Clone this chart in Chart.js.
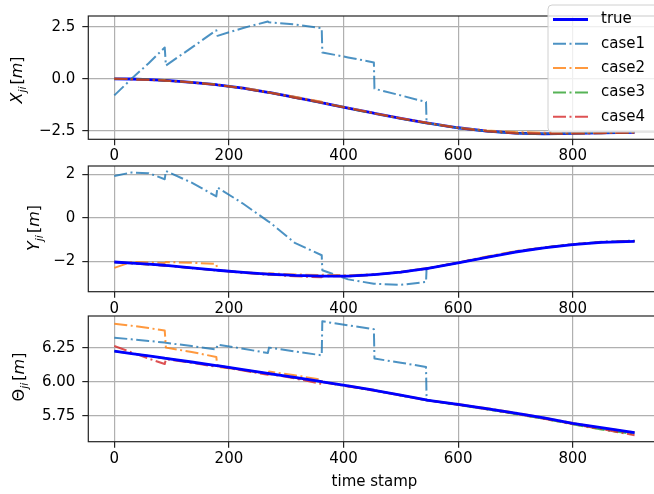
<!DOCTYPE html>
<html>
<head>
<meta charset="utf-8">
<script src="https://cdn.jsdelivr.net/npm/chart.js@4.4.0/dist/chart.umd.min.js"></script>
<style>
  body { margin: 0; background: #fff; overflow: hidden; }
  #wrap { position: relative; width: 654px; height: 494px; overflow: hidden; background: #fff; }
  #wrap canvas { position: absolute; left: 0; }
</style>
</head>
<body>
<div id="wrap">
  <canvas id="chartX" width="700" height="175" style="top:0px"></canvas>
  <canvas id="chartY" width="700" height="175" style="top:150px"></canvas>
  <canvas id="chartT" width="700" height="194" style="top:300px"></canvas>
</div>
<script>
const timeStamps = [0, 30, 60, 88, 90, 135, 178, 180, 225, 268, 270, 315, 362, 363, 408, 453, 454, 500, 544, 545, 600, 650, 700, 750, 800, 850, 908];

// X_ji [m]
const trueX  = [0.00, -0.01, -0.04, -0.08, -0.08, -0.17, -0.28, -0.29, -0.45, -0.65, -0.66, -0.90, -1.15, -1.16, -1.41, -1.66, -1.67, -1.91, -2.12, -2.13, -2.36, -2.52, -2.62, -2.65, -2.63, -2.61, -2.58];
const case1X = [-0.80, 0.00, 0.75, 1.51, 0.64, 1.50, 2.34, 2.07, 2.45, 2.76, 2.72, 2.62, 2.44, 1.27, 1.03, 0.79, -0.48, -0.80, -1.12, -2.13, -2.37, -2.53, -2.63, -2.64, -2.62, -2.60, -2.57];
const case2X = [0.00, -0.02, -0.05, -0.06, -0.09, -0.17, -0.27, -0.30, -0.44, -0.63, -0.66, -0.87, -1.10, -1.16, -1.40, -1.65, -1.67, -1.90, -2.11, -2.13, -2.35, -2.49, -2.57, -2.60, -2.62, -2.61, -2.58];
const case3X = [0.00, -0.01, -0.04, -0.09, -0.08, -0.18, -0.28, -0.29, -0.46, -0.66, -0.66, -0.91, -1.16, -1.16, -1.42, -1.67, -1.67, -1.92, -2.13, -2.13, -2.37, -2.53, -2.63, -2.66, -2.64, -2.62, -2.59];
const case4X = [0.00, -0.02, -0.05, -0.09, -0.08, -0.18, -0.29, -0.29, -0.46, -0.66, -0.66, -0.91, -1.15, -1.16, -1.42, -1.66, -1.67, -1.91, -2.12, -2.13, -2.37, -2.53, -2.63, -2.65, -2.64, -2.62, -2.60];

// Y_ji [m]
const trueY  = [-2.03, -2.08, -2.13, -2.18, -2.19, -2.30, -2.40, -2.41, -2.51, -2.59, -2.59, -2.65, -2.68, -2.68, -2.68, -2.61, -2.61, -2.50, -2.34, -2.33, -2.07, -1.82, -1.57, -1.38, -1.23, -1.13, -1.08];
const case1Y = [1.93, 2.09, 2.06, 1.78, 2.16, 1.62, 0.99, 1.40, 0.65, -0.15, -0.18, -1.15, -1.72, -2.41, -2.83, -3.03, -3.03, -3.08, -2.95, -2.33, -2.06, -1.80, -1.55, -1.36, -1.21, -1.10, -1.04];
const case2Y = [-2.30, -2.03, -2.05, -2.08, -2.03, -2.07, -2.12, -2.41, -2.50, -2.57, -2.55, -2.60, -2.63, -2.62, -2.64, -2.59, -2.60, -2.48, -2.32, -2.33, -2.05, -1.78, -1.53, -1.36, -1.22, -1.12, -1.07];
const case3Y = [-2.04, -2.09, -2.14, -2.19, -2.19, -2.31, -2.41, -2.41, -2.52, -2.60, -2.60, -2.66, -2.69, -2.68, -2.68, -2.61, -2.61, -2.50, -2.34, -2.33, -2.07, -1.81, -1.56, -1.37, -1.22, -1.12, -1.07];
const case4Y = [-2.03, -2.09, -2.15, -2.20, -2.19, -2.31, -2.42, -2.41, -2.53, -2.62, -2.60, -2.69, -2.73, -2.69, -2.69, -2.62, -2.61, -2.50, -2.34, -2.33, -2.06, -1.81, -1.56, -1.37, -1.22, -1.11, -1.06];

// Theta_ji
const trueT  = [6.224, 6.207, 6.190, 6.173, 6.172, 6.145, 6.119, 6.118, 6.090, 6.062, 6.061, 6.032, 6.001, 6.000, 5.970, 5.939, 5.938, 5.903, 5.868, 5.867, 5.835, 5.805, 5.772, 5.737, 5.697, 5.665, 5.630];
const case1T = [6.323, 6.311, 6.299, 6.287, 6.285, 6.262, 6.236, 6.272, 6.242, 6.211, 6.250, 6.222, 6.194, 6.442, 6.413, 6.384, 6.170, 6.140, 6.109, 5.867, 5.833, 5.800, 5.768, 5.733, 5.694, 5.660, 5.625];
const case2T = [6.425, 6.410, 6.393, 6.375, 6.250, 6.218, 6.182, 6.110, 6.085, 6.058, 6.075, 6.048, 6.015, 6.000, 5.972, 5.940, 5.938, 5.905, 5.870, 5.868, 5.838, 5.808, 5.775, 5.738, 5.699, 5.664, 5.632];
const case3T = [6.224, 6.206, 6.189, 6.171, 6.172, 6.143, 6.117, 6.118, 6.088, 6.060, 6.061, 6.030, 5.998, 6.000, 5.968, 5.937, 5.938, 5.901, 5.866, 5.867, 5.831, 5.800, 5.765, 5.730, 5.690, 5.652, 5.618];
const case4T = [6.262, 6.215, 6.170, 6.130, 6.165, 6.140, 6.110, 6.115, 6.082, 6.052, 6.058, 6.025, 5.985, 5.998, 5.966, 5.935, 5.936, 5.900, 5.866, 5.866, 5.832, 5.800, 5.768, 5.730, 5.692, 5.655, 5.610];

// labels and ticks
const seriesNames = ["true", "case1", "case2", "case3", "case4"];
const xTicks = [0, 200, 400, 600, 800];
const yTicksX = [-2.5, 0, 2.5];
const yTicksY = [-2, 0, 2];
const yTicksT = [5.75, 6.0, 6.25];
const xTitle = "time stamp";

Chart.defaults.font.family = "'DejaVu Sans', sans-serif";
Chart.defaults.font.size = 15;
Chart.defaults.color = "#000";

const seriesColors = [
  "#0000ff",
  "rgba(31,119,180,0.8)",
  "rgba(255,127,14,0.8)",
  "rgba(44,160,44,0.8)",
  "rgba(214,39,40,0.8)",
];
const dashDot = [13, 3.5, 2, 3.5];

// frame around the plot area (all four spines)
const framePlugin = {
  id: "frame",
  afterDatasetsDraw(chart) {
    const { ctx, chartArea: a } = chart;
    ctx.save();
    ctx.strokeStyle = "#222";
    ctx.lineWidth = 1.2;
    ctx.strokeRect(a.left, a.top, a.right - a.left, a.bottom - a.top);
    ctx.restore();
  },
};

// rotated y label like X_{ji}[m]
const yLabelPlugin = {
  id: "yLabel",
  afterDraw(chart, args, opts) {
    const ctx = chart.ctx;
    const big = 16;
    const parts = [
      { t: opts.symbol, f: (opts.upright ? "" : "italic ") + big + "px 'DejaVu Sans'", dy: 0 },
      { t: "ji", f: "italic 11px 'DejaVu Sans'", dy: 4 },
      { t: "[", f: big + "px 'DejaVu Sans'", dy: 0, pre: 2 },
      { t: "m", f: "italic " + big + "px 'DejaVu Sans'", dy: 0 },
      { t: "]", f: big + "px 'DejaVu Sans'", dy: 0 },
    ];
    ctx.save();
    let total = 0;
    parts.forEach((p) => {
      ctx.font = p.f;
      p.w = ctx.measureText(p.t).width;
      total += p.w + (p.pre || 0);
    });
    ctx.translate(opts.x, opts.y);
    ctx.rotate(-Math.PI / 2);
    ctx.fillStyle = "#000";
    ctx.textBaseline = "alphabetic";
    let pos = -total / 2;
    parts.forEach((p) => {
      pos += p.pre || 0;
      ctx.font = p.f;
      ctx.fillText(p.t, pos, 6 + p.dy);
      pos += p.w;
    });
    ctx.restore();
  },
};

// boxed legend in the upper right corner of the first panel
const legendPlugin = {
  id: "boxLegend",
  afterDraw(chart, args, opts) {
    if (!opts.show) return;
    const ctx = chart.ctx;
    const x0 = 548, y0 = 5, w = 112, h = 127;
    ctx.save();
    ctx.beginPath();
    ctx.roundRect(x0, y0, w, h, 4);
    ctx.fillStyle = "rgba(255,255,255,0.8)";
    ctx.fill();
    ctx.strokeStyle = "#d0d0d0";
    ctx.lineWidth = 1;
    ctx.stroke();
    chart.data.datasets.forEach((ds, i) => {
      const y = 19.5 + i * 24.3;
      ctx.beginPath();
      ctx.setLineDash(ds.borderDash || []);
      ctx.strokeStyle = ds.borderColor;
      ctx.lineWidth = ds.borderWidth;
      ctx.moveTo(553, y);
      ctx.lineTo(588, y);
      ctx.stroke();
      ctx.setLineDash([]);
      ctx.fillStyle = "#000";
      ctx.font = "15px 'DejaVu Sans'";
      ctx.textBaseline = "middle";
      ctx.fillText(ds.label, 601, y);
    });
    ctx.restore();
  },
};

function fmtMinus(s) {
  return s.replace("-", "\u2212");
}

function buildDatasets(values, trueOnTop) {
  return values.map((vals, i) => ({
    label: seriesNames[i],
    data: timeStamps.map((t, k) => ({ x: t, y: vals[k] })),
    borderColor: seriesColors[i],
    borderWidth: i === 0 ? 2.8 : 2,
    borderDash: i === 0 ? [] : dashDot,
    borderCapStyle: "butt",
    borderJoinStyle: "round",
    pointRadius: 0,
    tension: 0,
    fill: false,
    order: i === 0 ? (trueOnTop ? -10 : 0) : -i,
  }));
}

function makePanel(id, opt) {
  const canvas = document.getElementById(id);
  const H = canvas.height;
  return new Chart(canvas, {
    type: "line",
    data: { datasets: buildDatasets(opt.values, opt.trueOnTop) },
    plugins: [framePlugin, yLabelPlugin, legendPlugin],
    options: {
      responsive: false,
      animation: false,
      devicePixelRatio: 1,
      layout: { padding: { top: opt.areaTop, left: 0, right: 700 - 660.6, bottom: 0 } },
      plugins: {
        legend: { display: false },
        tooltip: { enabled: false },
        yLabel: opt.yLabel,
        boxLegend: { show: !!opt.legend },
      },
      scales: {
        x: {
          type: "linear",
          min: -45.4,
          max: 953.4,
          afterBuildTicks: (s) => { s.ticks = xTicks.map((v) => ({ value: v })); },
          afterFit: (s) => { s.height = H - opt.areaBottom; },
          grid: { color: "#b0b0b0", lineWidth: 1.2, tickColor: "#222", tickLength: 6, tickWidth: 1.2 },
          border: { display: false },
          ticks: { padding: 2, maxRotation: 0, autoSkip: false, callback: (v) => String(v) },
          title: opt.xTitle
            ? { display: true, text: opt.xTitle, font: { size: 15 }, padding: { top: 0, bottom: 3 } }
            : { display: false },
        },
        y: {
          min: opt.yMin,
          max: opt.yMax,
          afterBuildTicks: (s) => { s.ticks = opt.yTicks.map((v) => ({ value: v })); },
          afterFit: (s) => { s.width = 88.3; },
          grid: { color: "#b0b0b0", lineWidth: 1.2, tickColor: "#222", tickLength: 6, tickWidth: 1.2 },
          border: { display: false },
          ticks: { padding: 7, callback: (v) => fmtMinus(v.toFixed(opt.decimals)) },
        },
      },
    },
  });
}

makePanel("chartX", {
  values: [trueX, case1X, case2X, case3X, case4X],
  trueOnTop: false,
  areaTop: 15, areaBottom: 139.3,
  yMin: -2.916, yMax: 3.026, yTicks: yTicksX, decimals: 1,
  yLabel: { x: 16, y: 80, symbol: "X" },
  legend: true,
});

makePanel("chartY", {
  values: [trueY, case1Y, case2Y, case3Y, case4Y],
  trueOnTop: true,
  areaTop: 15, areaBottom: 141.7,
  yMin: -3.397, yMax: 2.388, yTicks: yTicksY, decimals: 0,
  yLabel: { x: 33, y: 78, symbol: "Y" },
});

makePanel("chartT", {
  values: [trueT, case1T, case2T, case3T, case4T],
  trueOnTop: true,
  areaTop: 15.7, areaBottom: 141.7,
  yMin: 5.563, yMax: 6.481, yTicks: yTicksT, decimals: 2,
  yLabel: { x: 18, y: 77, symbol: "\u0398", upright: true },
  xTitle: xTitle,
});
</script>
</body>
</html>
